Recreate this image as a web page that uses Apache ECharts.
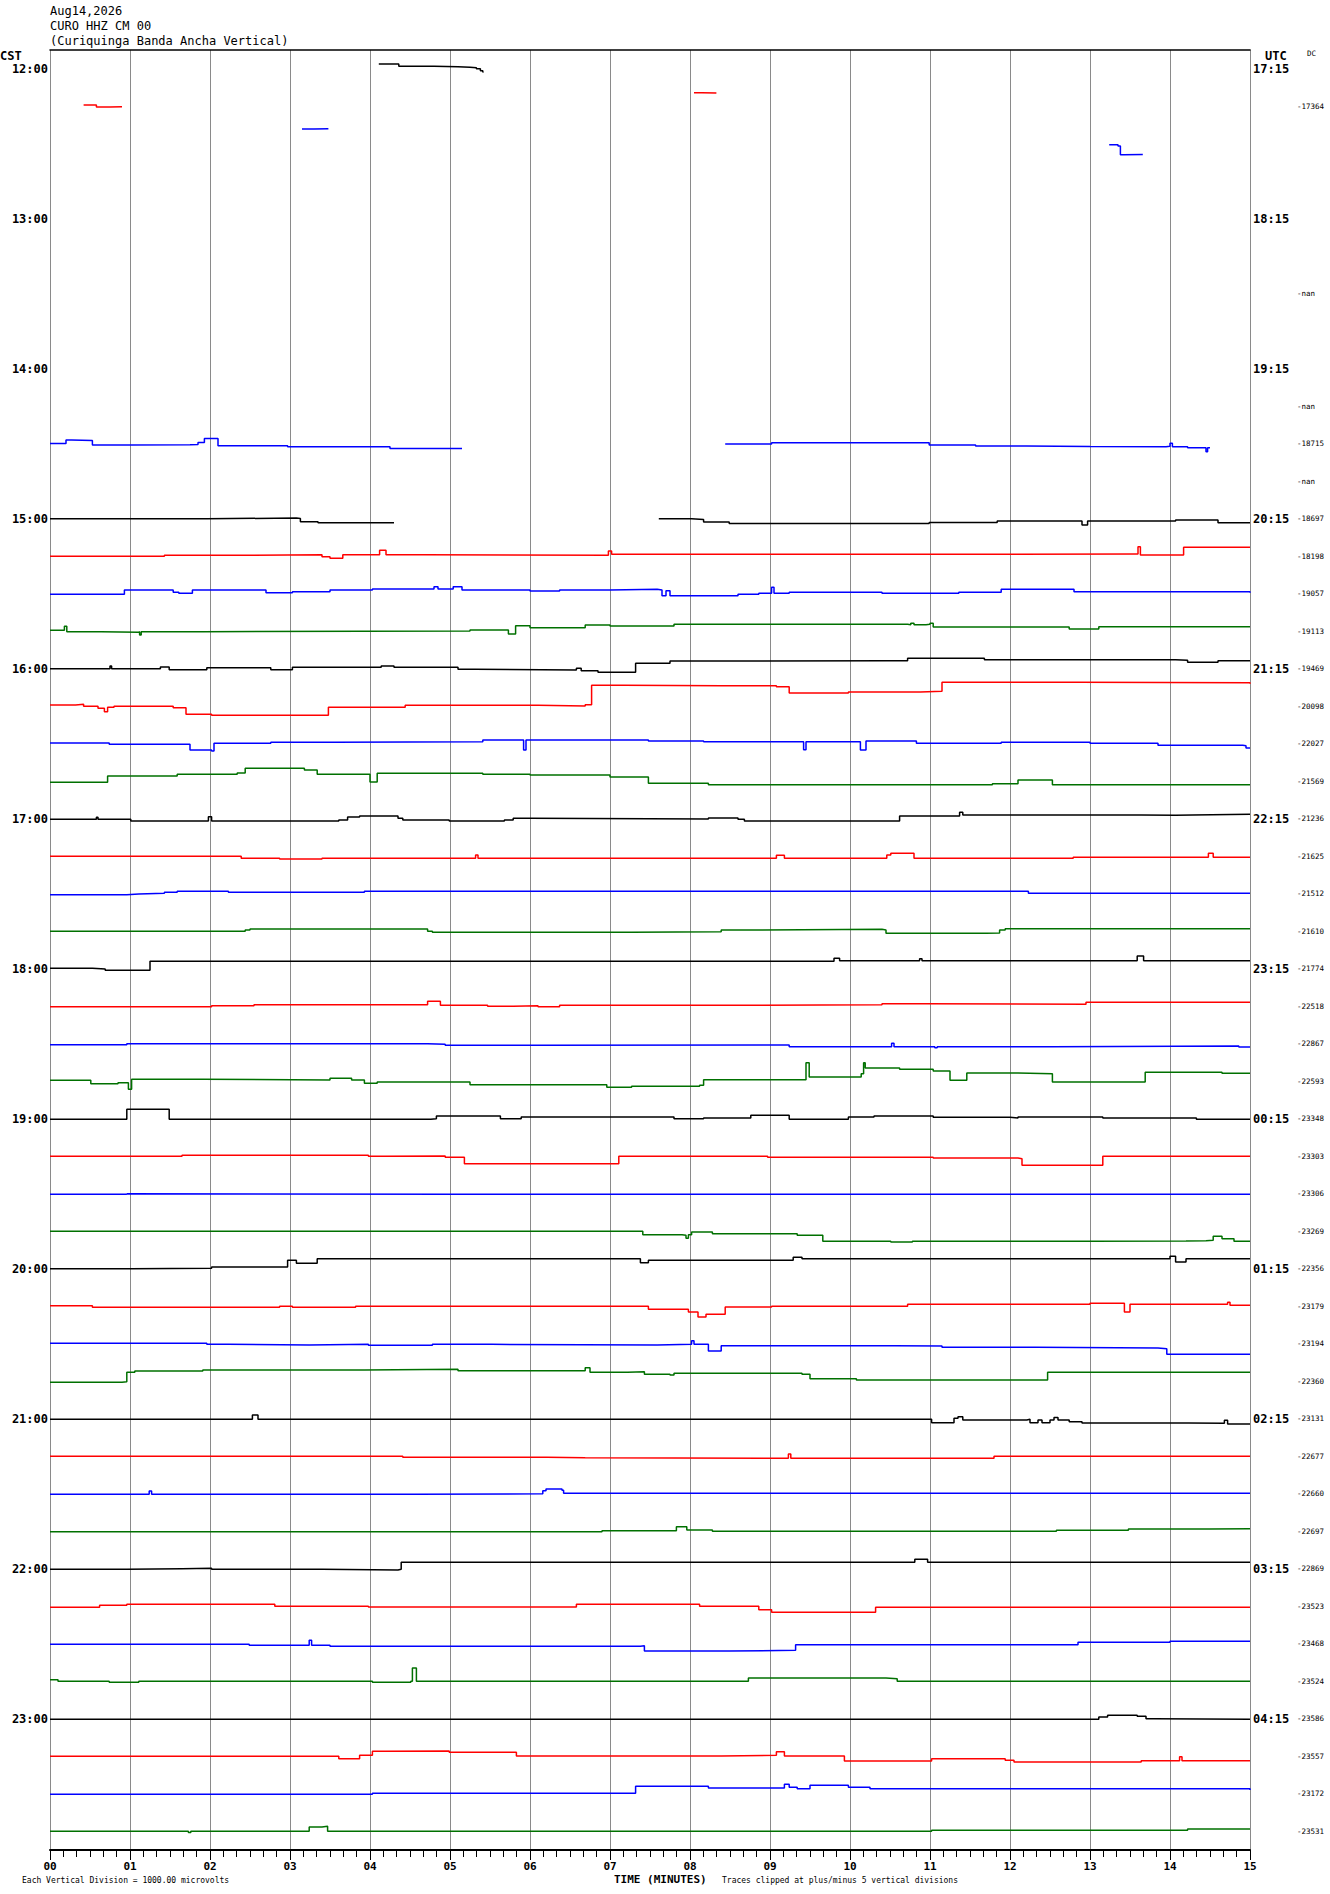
<!DOCTYPE html>
<html>
<head>
<meta charset="utf-8">
<script src="https://cdn.jsdelivr.net/npm/echarts@6/dist/echarts.min.js"></script>
<style>
html,body{margin:0;padding:0;background:#fff;}
#chart{width:1330px;height:1894px;}
</style>
</head>
<body>
<div id="chart"></div>
<script>
// ---- header / labels ----
const titleLines = ['Aug14,2026', 'CURO HHZ CM 00', '(Curiquinga Banda Ancha Vertical)'];
const minuteLabels = ['00','01','02','03','04','05','06','07','08','09','10','11','12','13','14','15'];
const cstLabels = ['12:00','13:00','14:00','15:00','16:00','17:00','18:00','19:00','20:00','21:00','22:00','23:00'];
const utcLabels = ['17:15','18:15','19:15','20:15','21:15','22:15','23:15','00:15','01:15','02:15','03:15','04:15'];
const dcLabels = ['', '-17364', '', '', '', '', '-nan', '', '', '-nan', '-18715', '-nan',
  '-18697', '-18198', '-19057', '-19113', '-19469', '-20098', '-22027', '-21569',
  '-21236', '-21625', '-21512', '-21610', '-21774', '-22518', '-22867', '-22593',
  '-23348', '-23303', '-23306', '-23269', '-22356', '-23179', '-23194', '-22360',
  '-23131', '-22677', '-22660', '-22697', '-22869', '-23523', '-23468', '-23524',
  '-23586', '-23557', '-23172', '-23531'];

// ---- traces: each row = list of segments, each segment = [minute, amplitude] breakpoints ----
const r00 = [[[4.11,4.7],[4.36,2.5],[4.8,2.0],[5.1,1.6],[5.25,1.0],[5.33,0],[5.38,-2],[5.41,-3.3],[5.42,-3.3]]];
const r01 = [[[0.42,1.2],[0.58,-0.7],[0.75,-0.4],[0.9,-0.4]], [[8.05,13.6],[8.15,13.2],[8.33,13.6]]];
const r02 = [[[3.15,14.7],[3.3,15.0],[3.48,14.7]], [[13.24,-1],[13.35,-2.2],[13.38,-11],[13.42,-10.7],[13.66,-10.7]]];
const r03 = [];
const r04 = [];
const r05 = [];
const r06 = [];
const r07 = [];
const r08 = [];
const r09 = [];
const r10 = [[[0,0.3],[0.2,3.7],[0.27,3.2],[0.53,-1.3],[1.0,-1.0],[1.75,-0.7],[1.85,1.2],[1.93,5.3],[2.1,-2],[2.97,-3],[4.25,-4.7],[5.15,-4.7]],
             [[8.44,-0.3],[9.02,1.0],[10.99,-1.3],[11.57,-2.3],[12.2,-2.7],[13.0,-3],[13.95,-2.5],[14.0,0.5],[14.03,-3],[14.22,-4],[14.45,-8],[14.47,-4],[14.5,-4]]];
const r11 = [];
const r12 = [[[0,0],[1.96,0.7],[3.08,0.2],[3.13,-3],[3.35,-4],[4.3,-4]],
             [[7.61,0],[8.02,-0.7],[8.17,-3.3],[8.49,-4.7],[10.99,-3.7],[11.84,-2.3],[12.88,-2.3],[12.9,-6.3],[12.97,-2.3],[14.07,-1.3],[14.6,-4],[15,-4]]];
const r13 = [[[0,0],[1.43,1],[2.44,1.6],[3.4,-0.4],[3.5,-2],[3.66,1.6],[4.12,6],[4.2,1.6],[4.67,1],[6.98,5.3],[7.02,2],[9.55,1.9],[12.0,2.3],[13.58,2.3],[13.6,9.6],[13.63,1.3],[14.17,9],[15,9]]];
const r14 = [[[0,-0.6],[0.93,3.7],[1.54,1.4],[1.61,0.4],[1.78,3.7],[2.7,1],[3.03,2],[3.5,3.7],[4.03,4.7],[4.8,7],[4.85,4.7],[5.04,7],[5.15,3.7],[6.0,2.7],[6.37,3.7],[7.0,4.4],[7.59,3.7],[7.65,-2],[7.7,3],[7.75,-2],[7.86,-2],[8.6,-0.6],[8.86,0.4],[9.02,6.4],[9.05,0.4],[9.24,1.4],[10.4,0.4],[11.36,1.4],[11.89,4.4],[12.8,2],[15,1]]];
const r15 = [[[0,1],[0.18,5],[0.21,-0.4],[0.64,-1],[1.11,-0.4],[1.12,-3.7],[1.14,-0.4],[1.91,0.2],[5.25,1.2],[5.73,-2.7],[5.82,5.6],[6.0,3.6],[6.69,6.2],[7.0,5.2],[7.8,6.9],[10.72,6.6],[10.76,8],[10.8,6.6],[10.95,6.9],[11.0,8],[11.04,4.2],[12.74,2.2],[13.11,4.6],[15,4.9]]];
const r16 = [[[0,0],[0.74,0],[0.75,2.7],[0.77,0],[1.38,1.7],[1.49,-1],[1.96,1],[2.76,-1],[3.03,1.4],[4.14,2.7],[4.3,1.4],[5.1,-0.6],[5.31,-1.2],[6.58,0.4],[6.64,-2],[6.85,-3.6],[7.27,-3.6],[7.32,5.4],[7.75,7.7],[8.02,8],[10.46,8],[10.72,10.4],[11.68,9],[14.07,8.4],[14.22,6.4],[14.6,8],[15,7.7]]];
const r17 = [[[0,1.2],[0.32,1.9],[0.42,0],[0.6,-2],[0.68,-5.4],[0.72,-1],[0.8,0],[1.54,-1.4],[1.7,-8],[2.02,-9],[3.45,-9],[3.48,-1.1],[4.44,0.9],[6.1,0.3],[6.69,1.6],[6.77,21],[7.17,20.6],[8.4,20.6],[9.08,19.6],[9.24,13.3],[9.98,14.3],[10.88,15],[11.15,24],[12.85,23.6],[15,22.6]]];
const r18 = [[[0,0.7],[0.74,-0.6],[1.7,-0.6],[1.75,-6.3],[2.02,-7.3],[2.05,0.4],[2.76,1.4],[3.56,2],[5.41,3.75],[5.9,3.75],[5.92,-6.3],[5.95,3.75],[7.48,2.75],[8.17,2],[9.4,2],[9.42,-6],[9.45,2],[10.08,2],[10.13,-6.3],[10.2,2.75],[10.83,0.4],[11.89,1.4],[13.0,0.4],[13.85,-1.6],[14.91,-1.9],[14.95,-4.3],[15,-4.3]]];
const r19 = [[[0,-1],[0.72,5.25],[1.59,6.9],[2.34,8.25],[2.44,12.9],[2.6,12.9],[3.18,11.25],[3.34,7],[4.0,-0.75],[4.09,7.9],[5.41,7],[6.0,6.25],[7.0,4.25],[7.48,-2],[8.23,-3.4],[11.78,-2.4],[12.1,1.25],[12.53,-3.4],[15,-3.75]]];
const r20 = [[[0,-0.6],[0.58,1.5],[0.6,-0.6],[1.01,-2.25],[1.98,2],[2.02,-2.25],[3.61,-1.25],[3.72,1.75],[3.87,2.75],[4.35,0.4],[4.41,-1.25],[4.99,-2.25],[5.68,-1.25],[5.79,0.4],[6.0,-0.25],[8.23,0.75],[8.6,-0.6],[8.68,-2.25],[10.56,-2.25],[10.62,2.75],[11.34,2.75],[11.37,6.4],[11.41,3.75],[13.64,3.4],[14.07,3.75],[14.28,4.4],[15,4.4]]];
const r21 = [[[0,0],[2.39,-2],[2.87,-2.75],[3.4,-2],[5.3,-2],[5.32,1.2],[5.35,-2],[9.08,1],[9.18,-2],[10.14,-2],[10.46,1.25],[10.51,2.9],[10.77,2.9],[10.8,-2],[12.79,-1],[14.46,-1],[14.48,3],[14.54,-1],[15,-1]]];
const r22 = [[[0,-0.9],[0.96,-0.3],[1.11,0.4],[1.43,1.4],[1.59,2.4],[2.23,1.4],[3.93,2.4],[12.15,2.4],[12.23,0.4],[15,0.4]]];
const r23 = [[[0,0],[2.44,1.25],[2.5,2.25],[4.72,0],[4.78,-1],[7.27,-0.4],[8.39,1.25],[8.71,1.9],[10.4,1.3],[10.45,-2],[11.7,-1.7],[11.87,1.25],[11.94,2.6],[15,2.3]]];
const r24 = [[[0,0.4],[0.53,-0.3],[0.69,-1.6],[1.11,-1.6],[1.25,7.4],[3.93,7.4],[9.77,7.4],[9.8,10.4],[9.87,8],[10.85,8],[10.87,10],[10.9,8],[13.59,12.75],[13.67,8],[15,8.4]]];
const r25 = [[[0,-0.4],[2.02,0.6],[2.55,1.6],[4.72,4.9],[4.88,0.9],[5.47,0],[5.79,0.6],[6.1,-0.4],[6.37,0.9],[8.71,1.6],[10.4,2.6],[10.94,1.9],[12.95,3.9],[15,3.6]]];
const r26 = [[[0,-0.9],[0.96,0],[4.72,-0.6],[4.94,-1.6],[6.1,-1.3],[9.24,-2.9],[10.5,-2.9],[10.52,0.4],[10.55,-2.9],[11.04,-2.9],[11.06,-3.9],[11.09,-2.9],[12.53,-2.25],[14.86,-3.25],[15,-3.25]]];
const r27 = [[[0,0.9],[0.51,-2.4],[0.85,-1.4],[0.98,-8],[1.02,1.9],[1.91,1.25],[3.5,2.9],[3.77,1.25],[3.93,-2.1],[4.09,-0.75],[5.25,-3.4],[6.96,-6.1],[7.27,-5],[8.12,-4],[8.17,1.6],[9.4,1.6],[9.45,18.5],[9.49,4.25],[10.03,4.25],[10.14,7.5],[10.17,18.5],[10.19,13.25],[10.62,12],[11.04,10.25],[11.25,0.9],[11.46,8.25],[12.1,7.6],[12.53,-0.75],[13.0,-0.75],[13.69,8.9],[14.65,8],[15,8]]];
const r28 = [[[0,-0.6],[0.96,9.4],[1.46,9.4],[1.49,-0.6],[4.76,0],[4.83,2.75],[5.63,0],[5.89,1.75],[7.8,0],[8.17,0.75],[8.76,3.4],[9.24,-0.6],[9.98,1.75],[10.3,2.75],[11.04,1.4],[12.0,0.75],[12.1,1.75],[13.16,0.75],[14.33,-0.6],[15,-0.6]]];
const r29 = [[[0,0],[1.65,1],[3.98,0],[4.19,0.3],[4.94,-1],[5.18,-7.4],[7.11,0],[8.97,-1],[11.04,-1.75],[12.1,-2.4],[12.15,-9],[13.16,0],[15,0]]];
const r30 = [[[0,-0.6],[0.95,0],[0.97,-0.6],[5.0,-0.6],[9.2,-0.6],[15,-0.6]]];
const r31 = [[[0,0],[7.22,0],[7.41,-3.4],[7.9,-4],[7.95,-7],[7.98,-3.6],[8.02,-0.75],[8.28,-2.4],[9.34,-4],[9.66,-10],[10.51,-10.75],[10.78,-10],[13.0,-9.8],[14.2,-9.5],[14.45,-9],[14.54,-5],[14.65,-7.5],[14.8,-10],[15,-10]]];
const r32 = [[[0,0],[1.01,0.6],[2.02,1.75],[2.97,8.4],[3.08,5.4],[3.34,10],[7.38,6.1],[7.48,8.4],[9.29,11.4],[9.4,10],[13.98,10],[14.0,12.4],[14.07,6.75],[14.2,10],[15,10]]];
const r33 = [[[0,0.6],[0.53,-1],[2.87,0],[3.03,-1],[3.82,0],[7.0,0],[7.48,-3],[7.98,-5.75],[8.1,-10.75],[8.2,-8],[8.44,-0.75],[9.02,0],[10.72,2],[13.0,3],[13.43,-5.75],[13.5,2],[14.7,2],[14.72,4],[14.75,1],[15,0.5]]];
const r34 = [[[0,0.4],[1.96,-0.6],[2.23,-1.25],[3.24,-0.6],[3.98,-1.6],[4.78,-0.6],[5.52,-1.25],[7.59,-0.6],[8.02,3],[8.05,-0.6],[8.2,-0.6],[8.23,-7.25],[8.39,-2],[10.56,-2.25],[11.15,-3.6],[12.32,-4.25],[13.85,-4.9],[13.96,-10.6],[15,-10.6]]];
const r35 = [[[0,-1],[0.9,-0.5],[0.96,9],[1.06,10.25],[1.91,11.25],[3.93,11.9],[5.1,10.6],[6.66,10.6],[6.69,13.5],[6.75,9],[7.22,9.6],[7.43,7],[7.75,6.25],[7.8,8],[9.4,7],[9.5,2.6],[10.08,1.25],[12.37,1.25],[12.47,9],[15,8.6]]];
const r36 = [[[0,-0.6],[2.51,-0.6],[2.53,3.7],[2.6,-0.6],[10.99,-0.6],[11.02,-3.9],[11.3,0.4],[11.35,2],[11.41,-1.25],[12.21,-0.6],[12.25,-3.9],[12.35,-1.2],[12.4,-3.9],[12.5,-1.2],[12.55,1.2],[12.6,-1.2],[12.74,-2.9],[12.9,-4.25],[14.23,-4.6],[14.68,-1.5],[14.72,-5.25],[15,-5.25]]];
const r37 = [[[0,0],[4.41,-1],[6.21,-1.4],[6.69,-2],[9.2,-2],[9.23,2.3],[9.26,-2],[11.78,-2],[11.8,0],[15,0]]];
const r38 = [[[0,-0.6],[1.22,-0.6],[1.24,2.7],[1.27,-0.6],[4.56,0],[6.16,3],[6.2,4.75],[6.4,3.5],[6.42,0.4],[15,0.4]]];
const r39 = [[[0,-0.4],[6.9,0.6],[7.83,4.6],[7.96,1.25],[8.28,0],[12.58,0.9],[13.48,2.25],[14.49,2.6],[15,2.6]]];
const r40 = [[[0,-0.6],[0.96,0],[1.65,0.4],[2.02,-0.6],[3.4,-1.25],[4.35,-0.6],[4.39,6.4],[10.77,6.4],[10.81,9.4],[10.97,6.4],[15,6.4]]];
const r41 = [[[0,-1],[0.62,0.9],[0.96,1.9],[2.81,0],[3.98,-0.75],[6.58,1.9],[8.12,0],[8.86,-3.4],[9.02,-6],[10.3,-6],[10.32,-1],[15,-1]]];
const r42 = [[[0,-0.6],[2.49,-1.6],[3.24,3.4],[3.27,-1.6],[3.5,-2.6],[7.38,-2],[7.43,-7.25],[8.49,-6.6],[9.32,-1],[12.85,1.4],[14.0,2.4],[15,2.75]]];
const r43 = [[[0,1.6],[0.1,0],[0.74,-1],[1.11,0],[4.03,-1],[4.51,0],[4.53,13.25],[4.58,0],[8.65,0],[8.73,3.25],[10.45,2.6],[10.59,0],[15,0.6]]];
const r44 = [[[0,-0.6],[13.11,1.75],[13.22,3.4],[13.59,2.4],[13.7,0],[13.8,-0.6],[15,-0.6]]];
const r45 = [[[0,0],[3.61,-2.4],[3.87,0.9],[4.03,4.9],[4.19,5.25],[4.99,3.9],[5.83,0.25],[8.39,0.9],[9.08,4.6],[9.18,0.25],[9.93,-4.75],[11.02,-2.4],[11.94,-4],[12.05,-5.75],[13.64,-4.4],[14.1,-4.4],[14.12,-0.5],[14.15,-4.4],[15,-4.75]]];
const r46 = [[[0,-0.6],[4.03,0.4],[7.0,0.6],[7.32,7.4],[8.23,5.75],[9.18,9.4],[9.24,6.5],[9.34,5],[9.5,8.4],[9.98,6.5],[10.25,5],[15,3.75]]];
const r47 = [[[0,0],[1.73,-1.3],[1.76,0],[3.18,0],[3.24,4.25],[3.4,4.9],[3.47,0],[11.02,1],[14.22,2.25],[15,2.25]]];

const rows = [r00,r01,r02,r03,r04,r05,r06,r07,r08,r09,r10,r11,r12,r13,r14,r15,r16,r17,r18,r19,
  r20,r21,r22,r23,r24,r25,r26,r27,r28,r29,r30,r31,r32,r33,r34,r35,r36,r37,r38,r39,
  r40,r41,r42,r43,r44,r45,r46,r47];

// ---- styling ----
const COLORS = ['#000000', '#ff0000', '#0000ff', '#007000'];
const AMP_PER_ROW = 37.5;   // amplitude units between two trace baselines
const NROWS = rows.length;
const MONO = '"DejaVu Sans Mono", "Liberation Mono", monospace';

const series = [];
rows.forEach((segs, r) => {
  segs.forEach(seg => {
    series.push({
      type: 'line',
      step: 'end',
      showSymbol: false,
      symbol: 'none',
      silent: true,
      animation: false,
      xAxisIndex: 0,
      yAxisIndex: 0,
      lineStyle: { color: COLORS[r % 4], width: 1.5 },
      data: seg.map(p => [p[0], r + 0.5 - p[1] / AMP_PER_ROW])
    });
  });
});

function rowIndexOf(v) {
  const idx = v - 0.5;
  const ri = Math.round(idx);
  return Math.abs(idx - ri) < 1e-6 ? ri : -1;
}

const chart = echarts.init(document.getElementById('chart'), null, { renderer: 'svg' });
chart.setOption({
  animation: false,
  backgroundColor: '#ffffff',
  grid: { left: 50, right: 80, top: 50, bottom: 44, containLabel: false, outerBoundsMode: 'none' },
  xAxis: [
    {
      type: 'value', min: 0, max: 15, interval: 1, position: 'bottom',
      axisLine: { show: true, onZero: false, lineStyle: { color: '#000', width: 2 } },
      axisTick: { show: true, length: 10, lineStyle: { color: '#000', width: 1 } },
      minorTick: { show: true, splitNumber: 6, length: 7, lineStyle: { color: '#000', width: 1 } },
      splitLine: { show: true, lineStyle: { color: '#8a8a8a', width: 1 } },
      axisLabel: {
        margin: 11, fontFamily: MONO, fontWeight: 'bold', fontSize: 11, lineHeight: 11, color: '#000',
        formatter: v => minuteLabels[Math.round(v)] || ''
      }
    },
    {
      type: 'value', min: 0, max: 15, position: 'top',
      axisLine: { show: true, onZero: false, lineStyle: { color: '#000', width: 1.5 } },
      axisTick: { show: false }, axisLabel: { show: false }, splitLine: { show: false }
    }
  ],
  yAxis: [
    {
      type: 'value', min: 0, max: NROWS, interval: 0.5, inverse: true, position: 'left',
      axisLine: { show: false }, axisTick: { show: false }, splitLine: { show: false },
      axisLabel: {
        margin: 2, fontFamily: MONO, fontWeight: 'bold', fontSize: 12, color: '#000',
        formatter: v => { const r = rowIndexOf(v); return (r >= 0 && r % 4 === 0) ? cstLabels[r / 4] : ''; }
      }
    },
    {
      type: 'value', min: 0, max: NROWS, interval: 0.5, inverse: true, position: 'right',
      axisLine: { show: true, onZero: false, lineStyle: { color: '#8a8a8a', width: 1 } },
      axisTick: { show: false }, splitLine: { show: false },
      axisLabel: {
        margin: 3, fontFamily: MONO, fontWeight: 'bold', fontSize: 12, color: '#000',
        formatter: v => { const r = rowIndexOf(v); return (r >= 0 && r % 4 === 0) ? utcLabels[r / 4] : ''; }
      }
    },
    {
      type: 'value', min: 0, max: NROWS, interval: 0.5, inverse: true, position: 'right', offset: 47,
      axisLine: { show: false }, axisTick: { show: false }, splitLine: { show: false },
      axisLabel: {
        margin: 0, fontFamily: MONO, fontSize: 7.5, color: '#000',
        formatter: v => { const r = rowIndexOf(v); return r >= 0 && r < NROWS ? dcLabels[r] : ''; }
      }
    }
  ],
  graphic: [
    { type: 'text', left: 50, top: 5, style: { text: titleLines[0], font: '12px ' + MONO, fill: '#000' } },
    { type: 'text', left: 50, top: 20, style: { text: titleLines[1], font: '12px ' + MONO, fill: '#000' } },
    { type: 'text', left: 50, top: 35, style: { text: titleLines[2], font: '12px ' + MONO, fill: '#000' } },
    { type: 'text', left: 0, top: 50, style: { text: 'CST', font: 'bold 12px ' + MONO, fill: '#000' } },
    { type: 'text', left: 1265, top: 50, style: { text: 'UTC', font: 'bold 12px ' + MONO, fill: '#000' } },
    { type: 'text', left: 1307, top: 49, style: { text: 'DC', font: '7.5px ' + MONO, fill: '#000' } },
    { type: 'text', left: 614, top: 1874, style: { text: 'TIME (MINUTES)', font: 'bold 11px ' + MONO, lineHeight: 11, fill: '#000' } },
    { type: 'text', left: 22, top: 1876, style: { text: 'Each Vertical Division = 1000.00 microvolts', font: '8px ' + MONO, fill: '#000' } },
    { type: 'text', left: 722, top: 1876, style: { text: 'Traces clipped at plus/minus 5 vertical divisions', font: '8px ' + MONO, fill: '#000' } }
  ],
  series: series
});
</script>
</body>
</html>
